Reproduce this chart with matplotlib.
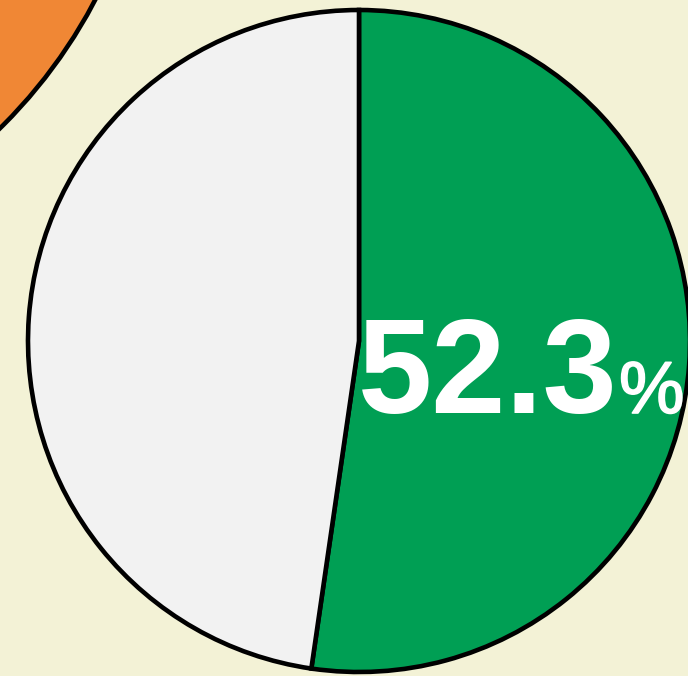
import matplotlib
matplotlib.use("Agg")
import matplotlib.pyplot as plt
import matplotlib.patheffects as pe

# data
labels = ["Yes", "No"]
values = [52.3, 47.7]
colors = ["#009F54", "#F2F2F2"]
other_values = [100.0]
other_colors = ["#F08735"]

W, H = 688, 676
fig = plt.figure(figsize=(W / 100, H / 100), dpi=100)
bg = "#F3F2D6"
fig.patch.set_facecolor(bg)
ax = fig.add_axes([0, 0, 1, 1])
ax.set_facecolor(bg)

lw = 3.3
# neighbouring (cropped) pie
ax.pie(other_values, colors=other_colors, center=(-361, H + 239), radius=515,
       startangle=90, counterclock=False,
       wedgeprops=dict(edgecolor="black", linewidth=lw), frame=True)

ax.pie(values, colors=colors, center=(359, H - 341), radius=331,
       startangle=90, counterclock=False,
       wedgeprops=dict(edgecolor="black", linewidth=lw, joinstyle="miter"), frame=True)

ax.set_xlim(0, W)
ax.set_ylim(0, H)
ax.set_aspect("equal")
ax.axis("off")

fam = ["Liberation Sans", "DejaVu Sans"]
ax.text(358, H - 413, f"{values[0]:.1f}", color="white", fontsize=96,
        fontweight="bold", family=fam, ha="left", va="baseline")
ax.text(619, H - 413, "%", color="white", fontsize=53,
        fontweight="normal", family=fam, ha="left", va="baseline",
        path_effects=[pe.withStroke(linewidth=1.2, foreground="white")])

fig.savefig("out.png", dpi=100, facecolor=bg)
